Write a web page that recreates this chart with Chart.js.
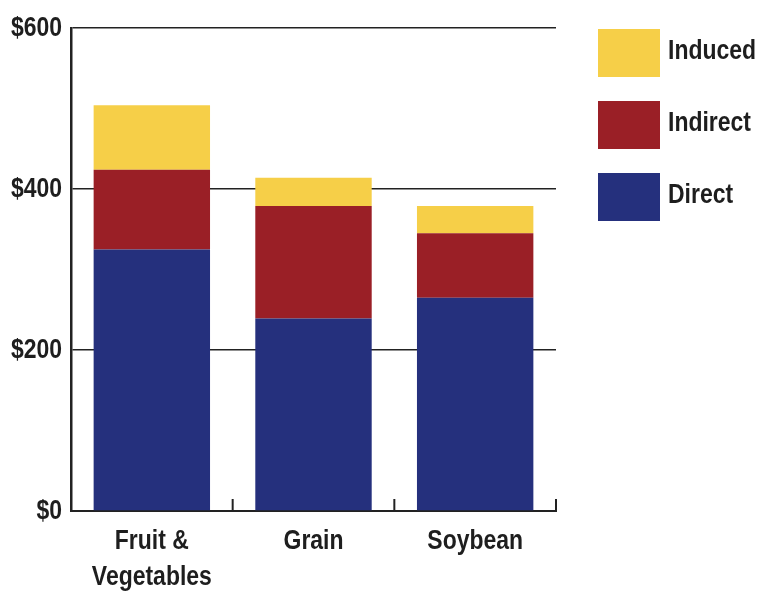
<!DOCTYPE html>
<html>
<head>
<meta charset="utf-8">
<script src="https://cdn.jsdelivr.net/npm/chart.js@4"></script>
<style>
  html, body { margin: 0; padding: 0; background: #ffffff; }
  #wrap { width: 761px; height: 592px; }
</style>
</head>
<body>
<div id="wrap"><canvas id="c" width="761" height="592"></canvas></div>
<script>
const categories = [['Fruit &', 'Vegetables'], 'Grain', 'Soybean'];
const seriesNames = ['Direct', 'Indirect', 'Induced'];
const directValues = [325, 239, 265];
const indirectValues = [99, 140, 80];
const inducedValues = [80, 35, 34];
const yTickValues = [0, 200, 400, 600];

const FONT_FAMILY = "'Liberation Sans', Arial, sans-serif";
const TEXT_COLOR = '#1e1e1e';
const COLORS = ['#25307d', '#9a1f26', '#f6cf48'];
const CONDENSE = 0.82;

const canvas = document.getElementById('c');
const context = canvas.getContext('2d');
const origFillText = context.fillText.bind(context);
// Emulate a condensed bold face by horizontally compressing all text.
context.fillText = function (text, x, y, maxWidth) {
  const w = this.measureText(text).width * CONDENSE;
  const mw = (maxWidth === undefined || maxWidth === null) ? w : Math.min(maxWidth, w);
  return origFillText(text, x, y, mw);
};

const legendPlugin = {
  id: 'sideLegend',
  afterDraw(chart) {
    const ctx = chart.ctx;
    const ds = chart.data.datasets.slice().reverse();
    ctx.save();
    ctx.font = 'bold 28px ' + FONT_FAMILY;
    ctx.textBaseline = 'middle';
    ctx.textAlign = 'left';
    ds.forEach((d, i) => {
      const y = 29 + i * 72;
      ctx.fillStyle = d.backgroundColor;
      ctx.fillRect(598, y, 62, 48);
      ctx.fillStyle = TEXT_COLOR;
      ctx.fillText(d.label, 668, y + 22);
    });
    ctx.restore();
  }
};

const innerTicksPlugin = {
  id: 'innerTicks',
  afterDatasetsDraw(chart) {
    const xs = chart.scales.x;
    const area = chart.chartArea;
    const ctx = chart.ctx;
    const n = chart.data.labels.length;
    ctx.save();
    ctx.strokeStyle = '#222';
    ctx.lineWidth = 2;
    for (let i = 0; i < n; i++) {
      let px;
      if (i < n - 1) {
        px = (xs.getPixelForValue(i) + xs.getPixelForValue(i + 1)) / 2;
      } else {
        px = area.right;
      }
      ctx.beginPath();
      ctx.moveTo(px, area.bottom);
      ctx.lineTo(px, area.bottom - 12);
      ctx.stroke();
    }
    ctx.restore();
  }
};

const valueSets = [directValues, indirectValues, inducedValues];

new Chart(canvas, {
  type: 'bar',
  data: {
    labels: categories,
    datasets: seriesNames.map((name, i) => ({
      label: name,
      data: valueSets[i],
      backgroundColor: COLORS[i],
      borderWidth: 0,
      categoryPercentage: 1.0,
      barPercentage: 0.72
    }))
  },
  options: {
    responsive: false,
    animation: false,
    devicePixelRatio: 1,
    layout: { padding: { top: 28, right: 205, left: 0, bottom: 0 } },
    plugins: {
      legend: { display: false },
      tooltip: { enabled: false }
    },
    scales: {
      x: {
        stacked: true,
        grid: { display: false, drawTicks: false },
        border: { display: true, color: '#222', width: 2 },
        ticks: {
          color: TEXT_COLOR,
          font: { family: FONT_FAMILY, size: 28, weight: 'bold', lineHeight: 1.3 },
          padding: 12,
          maxRotation: 0,
          autoSkip: false
        },
        afterFit(scale) { scale.height = 81; }
      },
      y: {
        stacked: true,
        min: 0,
        max: 600,
        afterBuildTicks(scale) { scale.ticks = yTickValues.map(v => ({ value: v })); },
        grid: { color: '#222', lineWidth: 1.5, drawTicks: false },
        border: { display: true, color: '#222', width: 2.5 },
        ticks: {
          color: TEXT_COLOR,
          font: { family: FONT_FAMILY, size: 28, weight: 'bold' },
          padding: 9,
          callback: (v) => '$' + v
        },
        afterFit(scale) { scale.width = 71; }
      }
    }
  },
  plugins: [innerTicksPlugin, legendPlugin]
});
</script>
</body>
</html>
